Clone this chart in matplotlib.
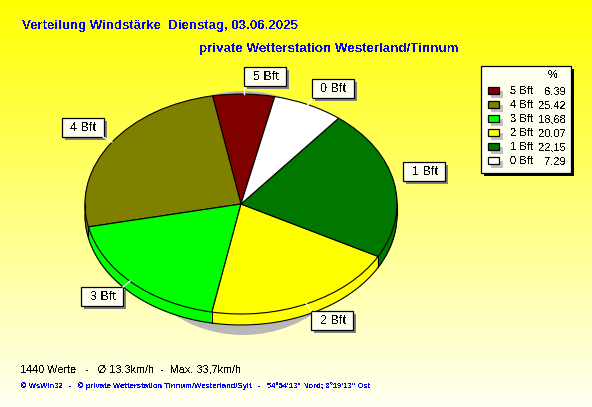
import numpy as np
import matplotlib
matplotlib.use('Agg')
import matplotlib.pyplot as plt
from matplotlib.patches import Ellipse, Rectangle

plt.rcParams['font.family'] = ['Liberation Sans', 'DejaVu Sans']
plt.rcParams['text.antialiased'] = False

W, H = 592, 407

# legend order, pie runs the same way counterclockwise
labels = ['5 Bft', '4 Bft', '3 Bft', '2 Bft', '1 Bft', '0 Bft']
values = [6.39, 25.42, 18.68, 20.07, 22.15, 7.29]
colors = ['#800000', '#808000', '#00ff00', '#ffff00', '#007800', '#ffffff']

title = 'Verteilung Windstärke  Dienstag, 03.06.2025'
subtitle = 'private Wetterstation Westerland/Tinnum'
stats = '1440 Werte   -   Ø 13,3km/h  -  Max. 33,7km/h'
footer = '© WsWin32   -   © private Wetterstation Tinnum/Westerland/Sylt   -   54°54\'13" Nord; 8°19\'13" Ost'

# label box (left, top), leader line start and end, all in pixels
label_pos = {'5 Bft': (244, 67), '4 Bft': (62, 118), '3 Bft': (81, 287),
             '2 Bft': (311, 311), '1 Bft': (403, 162), '0 Bft': (312, 79)}
leaders = {'5 Bft': ((244, 87), (244, 94)), '4 Bft': ((103, 137), (112, 142)),
           '3 Bft': ((123, 287), (130, 281)), '2 Bft': ((311, 311), (306, 303)),
           '1 Bft': ((401, 182), (395, 182)), '0 Bft': ((312, 99), (307, 106))}

fig = plt.figure(figsize=(W / 100, H / 100), dpi=100)

# background gradient
bg = fig.add_axes([0, 0, 1, 1], zorder=0)
grad = np.ones((H, 1, 3))
grad[:, 0, 2] = np.linspace(0, 0.96, H)
bg.imshow(grad, aspect='auto')
bg.axis('off')

# pie, unit circle stretched onto the ellipse box
cx, cy, rx, ry = 241, 204, 156, 110
depth = 11
start = 77.5
ax = fig.add_axes([(cx - rx) / W, (H - cy - ry) / H, 2 * rx / W, 2 * ry / H], zorder=1)
ax.add_patch(Ellipse((2 / rx, -9 / ry), 250 / rx, 244 / ry, color='#b8b8b8', lw=0, clip_on=False))

for k in range(depth, 0, -1):
    w, _ = ax.pie(values, colors=colors, startangle=start, center=(0, -k / ry), radius=1,
                  wedgeprops={'linewidth': 0.6, 'clip_on': False}, normalize=True)
    for p in w:
        p.set_edgecolor(p.get_facecolor())
        p.set_clip_on(False)

wedges, _ = ax.pie(values, colors=colors, startangle=start, radius=1,
                   wedgeprops={'linewidth': 0.8, 'edgecolor': 'black'}, normalize=True)
for p in wedges:
    p.set_clip_on(False)

# rim: lower outline and the vertical edges between slices
t = np.radians(np.linspace(180, 360, 200))
ax.plot(np.cos(t), np.sin(t) - depth / ry, color='black', lw=0.8, clip_on=False)
ax.plot([-1, -1], [0, -depth / ry], color='black', lw=0.8, clip_on=False)
ax.plot([1, 1], [0, -depth / ry], color='black', lw=0.8, clip_on=False)
edges = start + np.cumsum(values) / sum(values) * 360
for a in np.radians(edges):
    if np.sin(a) < 0:
        ax.plot([np.cos(a)] * 2, [np.sin(a), np.sin(a) - depth / ry], color='black', lw=0.8, clip_on=False)
ax.set_aspect('auto')
ax.set_xlim(-1, 1)
ax.set_ylim(-1, 1)
ax.axis('off')

# everything else in pixel coordinates
top = fig.add_axes([0, 0, 1, 1], zorder=2)
top.set_xlim(0, W)
top.set_ylim(H, 0)
top.axis('off')
top.patch.set_alpha(0)

top.text(22, 26, title, color='#0000ff', fontsize=9.5, fontweight='bold', va='center')
top.text(199, 49, subtitle, color='#0000ff', fontsize=9.6, fontweight='bold', va='center')
top.text(20, 369, stats, color='black', fontsize=7.8, va='center')
top.text(21, 386, footer, color='#0000ff', fontsize=5.5, fontweight='bold', va='center')

cream = '#fffff0'


def box(x, y, w, h, shadow, off):
    top.add_patch(Rectangle((x + off, y + off), w, h, fc=shadow, ec='none'))
    top.add_patch(Rectangle((x, y), w, h, fc=cream, ec='black', lw=0.9))


for name in labels:
    x, y = label_pos[name]
    (x0, y0), (x1, y1) = leaders[name]
    top.plot([x0, x1], [y0, y1], color='white', lw=1)
    box(x, y, 42, 19, '#808080', 3)
    top.text(x + 21.5, y + 10, name, fontsize=9, ha='center', va='center', color='black')

# legend
box(480.5, 65.5, 90, 107, 'black', 3)
top.text(553, 75, '%', fontsize=8, ha='center', va='center')
for i, (name, val, col) in enumerate(zip(labels, values, colors)):
    y = 91 + i * 14
    top.add_patch(Rectangle((491, y), 12, 7, fc='#c0c0c0', ec='none'))
    top.add_patch(Rectangle((487.5, y - 4), 11, 7, fc=col, ec='black', lw=0.9))
    top.text(510, y, name, fontsize=8, va='center')
    top.text(566, y, f'{val:.2f}'.replace('.', ','), fontsize=8, ha='right', va='center')

fig.savefig('out.png', dpi=100)
